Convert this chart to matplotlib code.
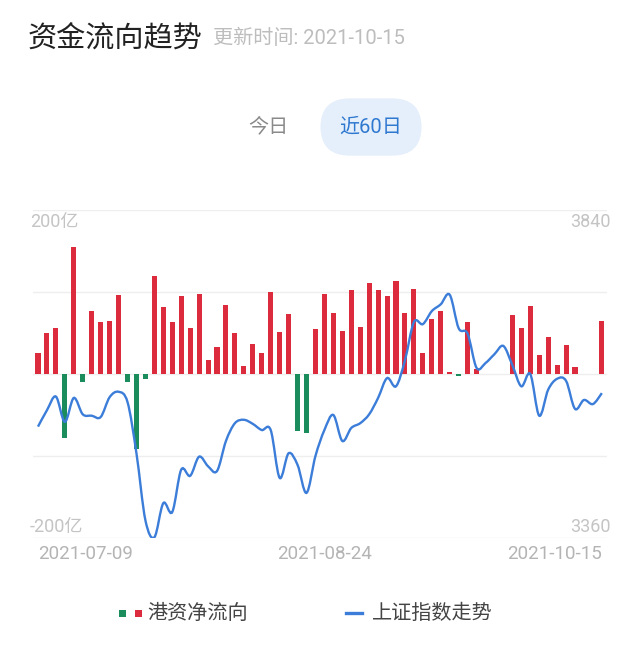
"""港资净流向 + 上证指数走势 (近60日)."""

import matplotlib

matplotlib.use("Agg")
import matplotlib.pyplot as plt
import numpy as np
from matplotlib.patches import PathPatch
from matplotlib.path import Path

plt.rcParams["font.family"] = ["Roboto", "Noto Sans CJK SC", "DejaVu Sans"]

# net flow per trading day, 亿
flow = [
    26, 50, 56, -78, 155, -10, 77, 63, 65, 96,
    -10, -91, -6, 119, 82, 64, 95, 56, 97, 17,
    33, 84, 50, 10, 37, 26, 100, 51, 73, -70,
    -72, 55, 98, 75, 52, 102, 57, 111, 102, 95,
    113, 75, 104, 26, 67, 77, 3, -2.5, 63, 6,
    0, 0, 0.5, 72, 56, 83, 23, 45, 11, 35,
    8, 0, 0, 65,
]
# Shanghai composite close
index_close = [
    3523, 3547, 3567, 3530, 3565, 3541, 3539, 3537, 3566, 3574,
    3559, 3484, 3386, 3361, 3411, 3398, 3460, 3451, 3479, 3465,
    3458, 3502, 3528, 3533, 3527, 3518, 3518, 3448, 3484, 3467,
    3426, 3480, 3518, 3540, 3502, 3521, 3528, 3541, 3565, 3594,
    3582, 3620, 3676, 3673, 3692, 3702, 3716, 3667, 3659, 3609,
    3616, 3629, 3641, 3613, 3582, 3600, 3539, 3577, 3593, 3590,
    3549, 3562, 3556, 3572,
]
date_ticks = [0, 32, 63]
date_labels = ["2021-07-09", "2021-08-24", "2021-10-15"]

RED = "#dc2b3d"
GREEN = "#1b8c5c"
BLUE = "#3b7dd8"
LABEL_GRAY = "#c4c4c4"
GRID = "#eeeeee"

W, H = 640, 647


def fy(px):
    return 1 - px / H


def smooth_path(xs, ys):
    # cubic bezier through every point (catmull-rom style handles)
    xs = np.asarray(xs, float)
    ys = np.asarray(ys, float)
    verts = [(xs[0], ys[0])]
    codes = [Path.MOVETO]
    n = len(xs)
    for i in range(n - 1):
        p0 = max(i - 1, 0)
        p3 = min(i + 2, n - 1)
        c1 = (xs[i] + (xs[i + 1] - xs[p0]) / 6, ys[i] + (ys[i + 1] - ys[p0]) / 6)
        c2 = (xs[i + 1] - (xs[p3] - xs[i]) / 6, ys[i + 1] - (ys[p3] - ys[i]) / 6)
        verts += [c1, c2, (xs[i + 1], ys[i + 1])]
        codes += [Path.CURVE4] * 3
    return Path(verts, codes)


fig = plt.figure(figsize=(W / 100, H / 100), dpi=100)

# header
fig.text(28 / W, fy(39), "资金流向趋势", fontsize=21, color="#222222", va="center")
fig.text(213 / W, fy(38), "更新时间: 2021-10-15", fontsize=14.5, color="#bdbdbd", va="center")
fig.text(268 / W, fy(127), "今日", fontsize=14.5, color="#8a8a8a", ha="center", va="center")
fig.text(
    371 / W, fy(127), "近60日", fontsize=14.5, color="#2f78d0", ha="center", va="center",
    bbox=dict(boxstyle="round,pad=0.95,rounding_size=1.45", fc="#e5effb", ec="none"),
)

# chart
x0, x1 = 33, 607
y_top, y_bot = 210, 538
ax = fig.add_axes([x0 / W, fy(y_bot), (x1 - x0) / W, (y_bot - y_top) / H])
idx = np.arange(len(flow))
colors = [RED if v >= 0 else GREEN for v in flow]
ax.bar(idx, flow, width=0.56, color=colors, zorder=2)
step = 8.95
ax.set_xlim((x0 - 38) / step, (x1 - 38) / step)
ax.set_ylim(-200, 200)
ax.set_yticks([-200, -100, 0, 100, 200])
ax.grid(axis="y", color=GRID, lw=1)
ax.set_axisbelow(True)
ax.set_xticks(date_ticks)
ax.set_xticklabels(date_labels, fontsize=13.5, color="#b4b4b4")
ax.tick_params(axis="x", length=0, pad=5)
labels = ax.get_xticklabels()
labels[0].set_horizontalalignment("left")
labels[-1].set_horizontalalignment("right")
for s in ax.spines.values():
    s.set_visible(False)

ax2 = ax.twinx()
ax2.set_ylim(3360, 3840)
ax2.add_patch(PathPatch(smooth_path(idx, index_close), fc="none", ec=BLUE, lw=1.7, zorder=3))
ax2.set_yticks([])
for s in ax2.spines.values():
    s.set_visible(False)
# twinx switches the left ticks back on
ax.tick_params(axis="y", left=False, right=False, labelleft=False, labelright=False)

# axis value labels
fig.text(30 / W, fy(222), "200亿", fontsize=13, color=LABEL_GRAY, va="center")
fig.text(30 / W, fy(527), "-200亿", fontsize=13, color=LABEL_GRAY, va="center")
fig.text(611 / W, fy(222), "3840", fontsize=13, color=LABEL_GRAY, va="center", ha="right")
fig.text(611 / W, fy(527), "3360", fontsize=13, color=LABEL_GRAY, va="center", ha="right")

# legend
fig.patches.append(plt.Rectangle((119 / W, fy(617)), 7 / W, 7 / H, fc=GREEN, transform=fig.transFigure, figure=fig))
fig.patches.append(plt.Rectangle((135 / W, fy(617)), 7 / W, 7 / H, fc=RED, transform=fig.transFigure, figure=fig))
fig.text(147 / W, fy(613), "港资净流向", fontsize=14.5, color="#444444", va="center")
fig.add_artist(plt.Line2D([346 / W, 362 / W], [fy(613), fy(613)], color=BLUE, lw=2.4, transform=fig.transFigure))
fig.text(372 / W, fy(613), "上证指数走势", fontsize=14.5, color="#444444", va="center")

fig.savefig("out.png", dpi=100, facecolor="white")
